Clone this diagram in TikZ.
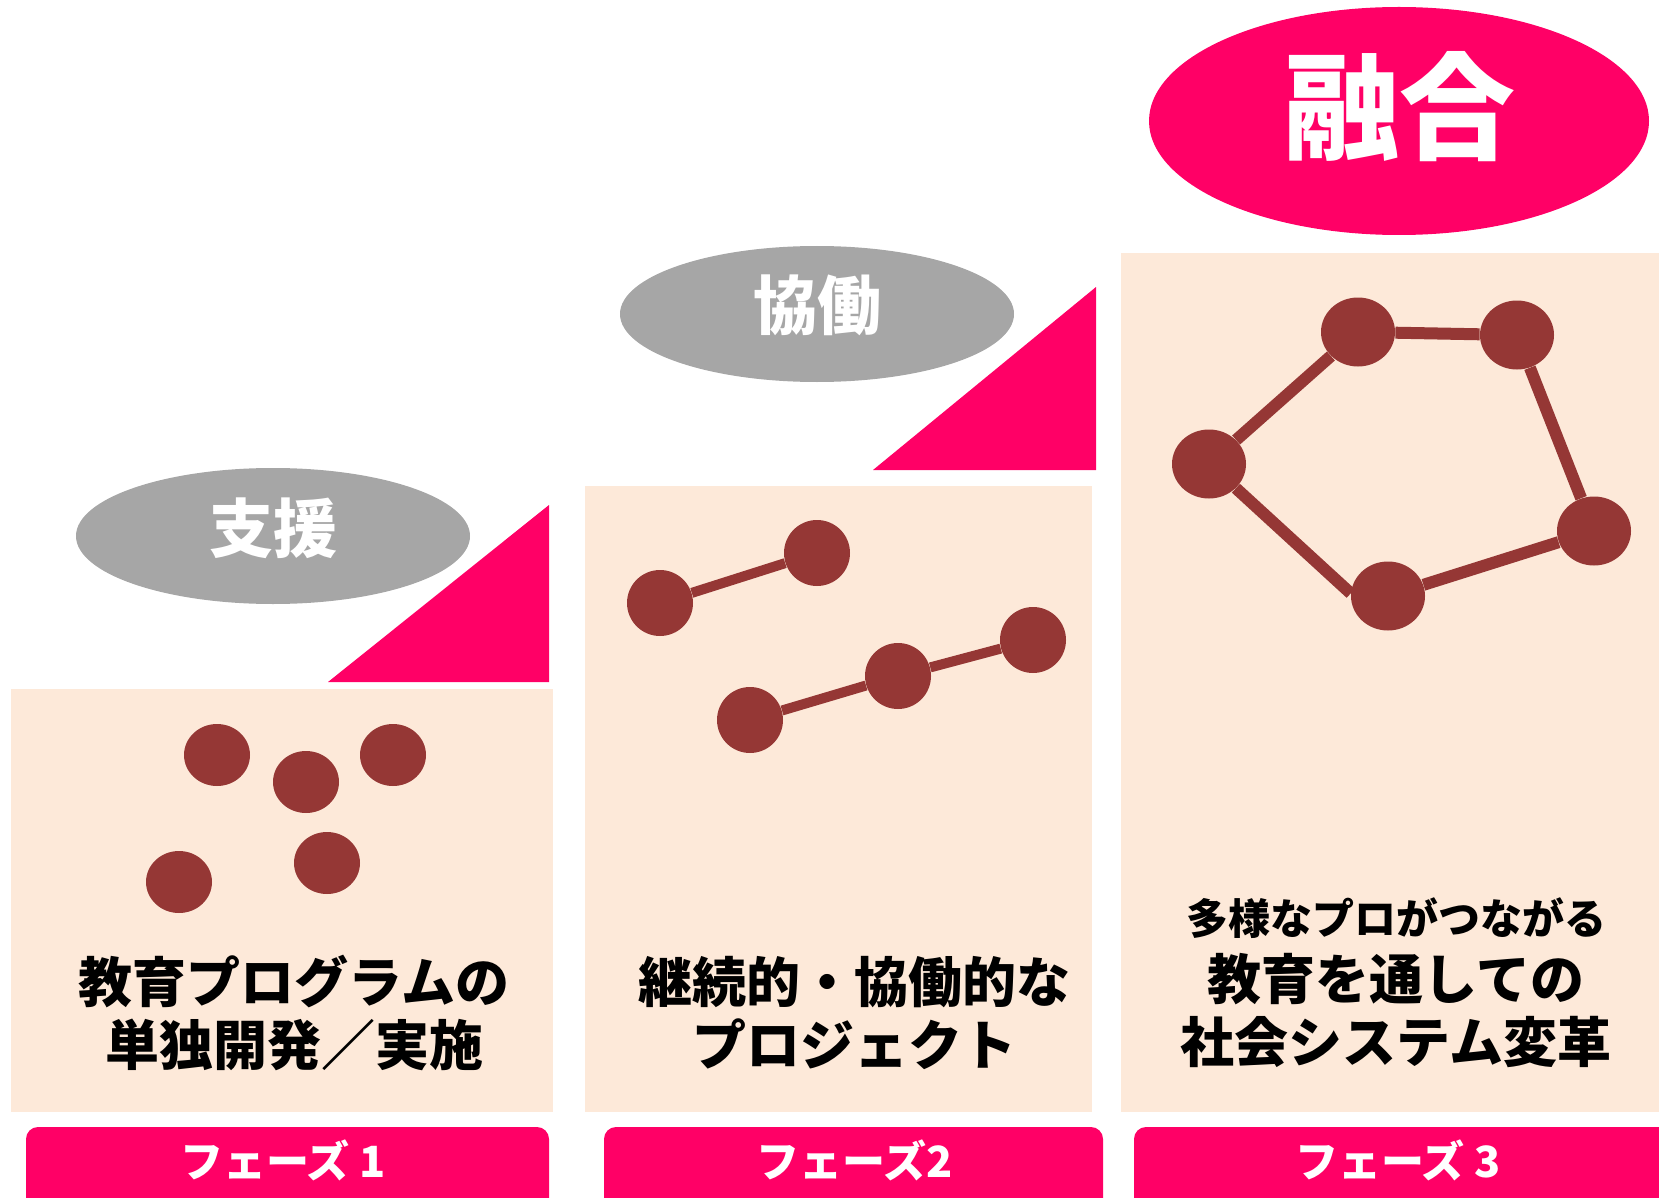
\documentclass[tikz,border=0pt]{standalone}
\usepackage{fontspec}
\setmainfont{Noto Sans CJK JP}
\usetikzlibrary{shapes,calc,positioning}
\definecolor{phasepink}{HTML}{FF0066}
\definecolor{stagepeach}{HTML}{FDE9D9}
\definecolor{dotred}{HTML}{953735}
\definecolor{taggray}{HTML}{A6A6A6}
\tikzset{stagebox/.style={fill=stagepeach},
     phasetab/.style={fill=phasepink,rounded corners=6pt},
     phaselabel/.style={
       text=white,
       inner sep=0,
       font=\bfseries\fontsize{21.5pt}{25pt}\selectfont
     },
     member/.style={
       ellipse,
       fill=dotred,
       inner sep=0,
       minimum width=33pt,
       minimum height=31pt
     },
     bigmember/.style={member,minimum width=37pt,minimum height=34.5pt},
     tie/.style={draw=dotred,line width=5pt},
     stagetext/.style={
       align=center,
       inner sep=0,
       font=\bfseries\fontsize{27pt}{31.5pt}\selectfont
     }
}

\begin{document}
\begin{tikzpicture}[
    x=0.5pt, y=-0.5pt,
    tagshape/.style={ellipse,fill=taggray,inner sep=0,
                minimum width=197pt,minimum height=68pt},
    tagtext/.style={text=white,inner sep=0,
                font=\bfseries\fontsize{32pt}{36pt}\selectfont}]
    \useasboundingbox (0,0) rectangle (1659,1198);
    \clip (0,0) rectangle (1659,1198);

    % steps
    \fill[stagebox] (11,689) rectangle (553,1112);
    \fill[stagebox] (585,486) rectangle (1092,1112);
    \fill[stagebox] (1121,253) rectangle (1670,1112);
    \fill[phasepink] (328,682) -- (549,682) -- (549,505) -- cycle;
    \fill[phasepink] (873,470) -- (1096,470) -- (1096,287) -- cycle;

    % phase tabs
    \fill[phasetab] (26,1127) rectangle (549,1230);
    \fill[phasetab] (604,1127) rectangle (1103,1230);
    \fill[phasetab] (1134,1127) rectangle (1690,1230);
    \node[phaselabel] (ph1) at (283,1160) {フェーズ 1};
    \node[phaselabel] (ph2) at (855,1160) {フェーズ2};
    \node[phaselabel] (ph3) at (1398,1160) {フェーズ 3};

    % tags
    \node[tagshape] (help) at (273,536) {};
    \node[tagtext] (helptext) at ([yshift=4pt]help.center) {支援};
    \node[tagshape] (coop) at (817,314) {};
    \node[tagtext] (cooptext) at ([yshift=4.5pt]coop.center) {協働};
    \node[tagshape,fill=phasepink,minimum width=250pt,minimum height=114pt] (fusion) at (1399,121) {};
    \node[tagtext,font=\bfseries\fontsize{58pt}{62pt}\selectfont] (fusiontext) at ([yshift=7pt]fusion.center) {融合};

    % phase 1: separate members
    \node[member] (a1) at (217,755) {};
    \node[member] (a2) at (306,782) {};
    \node[member] (a3) at (393,755) {};
    \node[member] (a4) at (179,882) {};
    \node[member] (a5) at (327,863) {};
    \node[stagetext] (solo) at (294,1013) {教育プログラムの\\単独開発／実施};

    % phase 2: pairs and chains
    \node[member,minimum height=33pt] (b1) at (660,603) {};
    \node[member,minimum height=33pt] (b2) at (817,553) {}
      edge [tie] (b1);
    \node[member,minimum height=33pt] (b3) at (750,720) {};
    \node[member,minimum height=33pt] (b4) at (898,676) {}
      edge [tie] (b3);
    \node[member,minimum height=33pt] (b5) at (1033,640) {}
      edge [tie] (b4);
    \node[stagetext] (project) at (854,1013) {継続的・協働的な\\プロジェクト};

    % phase 3: closed ring
    \node[bigmember] (c1) at (1358,332) {};
    \node[bigmember] (c2) at (1517,335) {}
      edge [tie,line width=6pt] (c1);
    \node[bigmember] (c3) at (1209,464) {}
      edge [tie,line width=6pt] (c1);
    \node[bigmember] (c4) at (1594,531) {}
      edge [tie,line width=6pt] (c2);
    \node[bigmember] (c5) at (1388,596) {}
      edge [tie,line width=6pt] (c4);
    \draw[tie,line width=6pt] (c3.-42) -- (c5.176);
    \node[stagetext,font=\bfseries\fontsize{21pt}{25pt}\selectfont] (goalhead) at (1396,918) {多様なプロがつながる};
    \node[stagetext] (goal) at (1396,1010) {教育を通しての\\社会システム変革};
  \end{tikzpicture}
\end{document}
